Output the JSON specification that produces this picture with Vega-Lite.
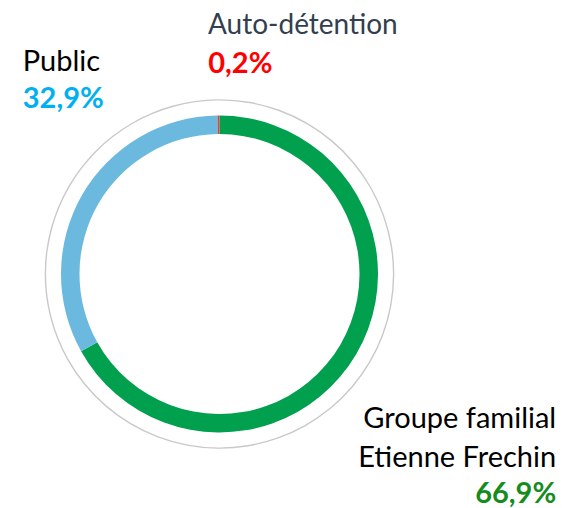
{
  "$schema": "https://vega.github.io/schema/vega-lite/v6.json",
  "width": 439,
  "height": 440,
  "autosize": {"type": "none"},
  "padding": {"left": 0, "top": 54, "right": 124, "bottom": 14},
  "background": "white",
  "config": {"view": {"stroke": null}, "text": {"font": "Lato"}},
  "data": {"values": [
    {"name": "Groupe familial Etienne Frechin", "share": 66.9, "label": "66,9%", "o": 1},
    {"name": "Public", "share": 32.9, "label": "32,9%", "o": 2},
    {"name": "Auto-détention", "share": 0.2, "label": "0,2%", "o": 3}
  ]},
  "encoding": {
    "theta": {"field": "share", "type": "quantitative", "stack": true},
    "order": {"field": "o", "type": "quantitative"}
  },
  "layer": [
    {
      "mark": {"type": "arc", "radius": 174.8, "radius2": 173.4, "color": "#c9c9c9"}
    },
    {
      "mark": {"type": "arc", "radius": 158.5, "radius2": 140},
      "encoding": {
        "color": {"field": "name", "type": "nominal", "legend": null,
          "scale": {"domain": ["Groupe familial Etienne Frechin", "Public", "Auto-détention"],
                    "range": ["#00a04f", "#6cb9e0", "#c0504d"]}}
      }
    },
    {
      "mark": {"type": "text", "radius": 240, "align": "left", "baseline": "alphabetic", "dx": -10, "dy": 0, "fontSize": 28, "color": "#333f4f"},
      "encoding": {"text": {"condition": {"test": "datum.o === 3", "field": "name"}, "value": ""}}
    },
    {
      "mark": {"type": "text", "radius": 201, "align": "left", "baseline": "alphabetic", "dx": -10, "dy": 0, "fontSize": 29, "fontWeight": "bold", "color": "#ff0000"},
      "encoding": {"text": {"condition": {"test": "datum.o === 3", "field": "label"}, "value": ""}}
    },
    {
      "mark": {"type": "text", "radius": 240, "align": "left", "baseline": "alphabetic", "dx": 11, "dy": -83, "fontSize": 29, "color": "#000000"},
      "encoding": {"text": {"condition": {"test": "datum.o === 2", "field": "name"}, "value": ""}}
    },
    {
      "mark": {"type": "text", "radius": 240, "align": "left", "baseline": "alphabetic", "dx": 11, "dy": -46, "fontSize": 29, "fontWeight": "bold", "color": "#00b0f0"},
      "encoding": {"text": {"condition": {"test": "datum.o === 2", "field": "label"}, "value": ""}}
    },
    {
      "mark": {"type": "text", "radius": 300, "align": "right", "baseline": "alphabetic", "dx": 78, "dy": 2, "fontSize": 29, "color": "#000000", "lineBreak": "|", "lineHeight": 39},
      "encoding": {"text": {"condition": {"test": "datum.o === 1", "value": "Groupe familial|Etienne Frechin"}, "value": ""}}
    },
    {
      "mark": {"type": "text", "radius": 300, "align": "right", "baseline": "alphabetic", "dx": 78, "dy": 77, "fontSize": 29, "fontWeight": "bold", "color": "#168c1e"},
      "encoding": {"text": {"condition": {"test": "datum.o === 1", "field": "label"}, "value": ""}}
    }
  ]
}
